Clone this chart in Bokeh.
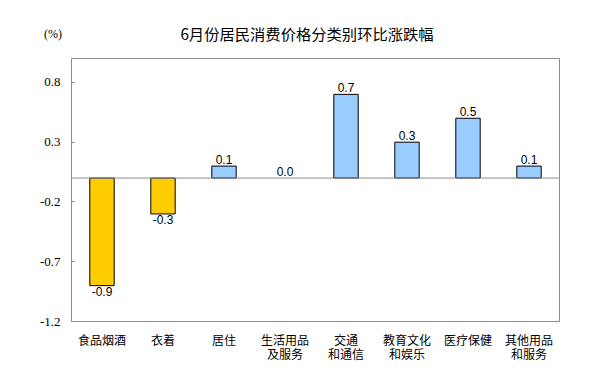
from bokeh.plotting import figure
from bokeh.models import ColumnDataSource, FixedTicker, Span, FactorRange, Range1d, Div
from bokeh.layouts import column
from bokeh.embed import file_html
from bokeh.resources import INLINE
from bokeh.core.properties import value

categories = ["食品烟酒", "衣着", "居住", "生活用品\n及服务", "交通\n和通信", "教育文化\n和娱乐", "医疗保健", "其他用品\n和服务"]
values = [-0.9, -0.3, 0.1, 0.0, 0.7, 0.3, 0.5, 0.1]
y_ticks = [-1.2, -0.7, -0.2, 0.3, 0.8]
title_text = "6月份居民消费价格分类别环比涨跌幅"
unit_text = "(%)"

colors = ["#FFCC00" if v < 0 else "#99CCFF" for v in values]
edge = [None if v == 0 else "black" for v in values]
labels = ["%.1f" % v for v in values]
pos = [v >= 0 for v in values]

fig = figure(width=583, height=324, x_range=FactorRange(*categories), y_range=Range1d(-1.2, 1.0),
             output_backend="svg", toolbar_location=None, min_border_left=71, min_border_right=24,
             min_border_top=5, min_border_bottom=56)
fig.background_fill_color = "white"
fig.border_fill_color = "white"
fig.outline_line_color = "#8c8c8c"
fig.outline_line_width = 1
fig.xgrid.visible = False
fig.ygrid.visible = False

src = ColumnDataSource(dict(x=categories, top=values, color=colors, edge=edge))
fig.vbar(x="x", top="top", bottom=0, width=0.4, fill_color="color", line_color="edge", line_width=1, source=src)

fig.add_layout(Span(location=0, dimension="width", line_color="#8c8c8c", line_width=1))

pos_src = ColumnDataSource(dict(x=[c for c, q in zip(categories, pos) if q],
                                y=[v for v, q in zip(values, pos) if q],
                                t=[l for l, q in zip(labels, pos) if q]))
neg_src = ColumnDataSource(dict(x=[c for c, q in zip(categories, pos) if not q],
                                y=[v for v, q in zip(values, pos) if not q],
                                t=[l for l, q in zip(labels, pos) if not q]))
fig.text(x="x", y="y", text="t", source=pos_src, text_align="center", text_baseline="bottom",
         y_offset=-2, text_font=value("Liberation Sans"), text_font_size="12px", text_color="black")
fig.text(x="x", y="y", text="t", source=neg_src, text_align="center", text_baseline="top",
         y_offset=1, text_font=value("Liberation Sans"), text_font_size="12px", text_color="black")

yax = fig.yaxis[0]
yax.ticker = FixedTicker(ticks=y_ticks)
yax.major_label_overrides = {t: "%.1f" % t for t in y_ticks}
yax.axis_line_color = None
yax.major_tick_in = 3
yax.major_tick_out = 0
yax.major_tick_line_color = "#8c8c8c"
yax.minor_tick_line_color = None
yax.major_label_text_font = "Liberation Serif"
yax.major_label_text_font_size = "13px"
yax.major_label_text_color = "black"
yax.major_label_standoff = 11

xax = fig.xaxis[0]
xax.axis_line_color = None
xax.major_tick_line_color = None
xax.minor_tick_line_color = None
xax.major_label_text_font = "Noto Sans CJK SC"
xax.major_label_text_font_size = "12px"
xax.major_label_text_color = "black"
xax.major_label_standoff = 3
xax.major_label_text_line_height = 0.85

header_html = (
    '<div style="position:relative;width:583px;height:53px;">'
    '<span style="position:absolute;left:8px;width:598px;top:23px;text-align:center;'
    'font-family:\'Noto Sans CJK SC\';font-size:15.3px;line-height:20px;color:black;white-space:nowrap;">'
    + title_text + '</span>'
    '<span style="position:absolute;left:44px;top:26px;'
    'font-family:\'Liberation Serif\';font-size:12px;line-height:16px;color:black;">'
    + unit_text + '</span></div>'
)
header = Div(text=header_html, width=583, height=53, margin=(0, 0, 0, 0))

p = column(header, fig, spacing=0)

open("out.html", "w").write(file_html(p, INLINE))
